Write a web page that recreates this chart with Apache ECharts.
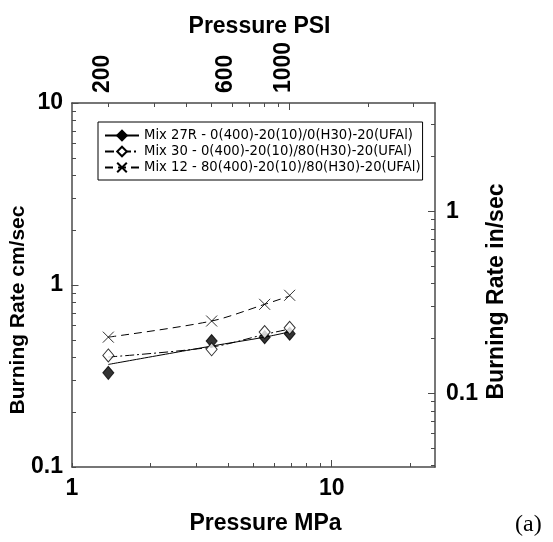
<!DOCTYPE html>
<html><head><meta charset="utf-8">
<script src="https://cdn.jsdelivr.net/npm/echarts@6/dist/echarts.min.js"></script>
<style>html,body{margin:0;padding:0;background:#fff}#c{width:553px;height:542px}</style>
</head><body><div id="c"></div>
<script>
// ---- data ----
const pressureMPa = [1.38, 3.45, 5.52, 6.89];
const mix27R = [0.329, 0.492, 0.517, 0.540];
const mix30  = [0.410, 0.443, 0.551, 0.582];
const mix12  = [0.517, 0.634, 0.783, 0.878];
const fit27R = [0.366, 0.462, 0.517, 0.553];
const fit30  = [0.402, 0.456, 0.535, 0.573];
const fit12  = [0.517, 0.634, 0.783, 0.870];
const seriesNames = [
  'Mix 27R - 0(400)-20(10)/0(H30)-20(UFAl)',
  'Mix 30 - 0(400)-20(10)/80(H30)-20(UFAl)',
  'Mix 12 - 80(400)-20(10)/80(H30)-20(UFAl)'
];
const mpaTicks  = [1, 2, 3, 4, 5, 6, 7, 8, 9, 10, 20];
const mpaMajor  = [10];
const mpaLabels = [1, 10];
const psiTicks  = [200, 300, 400, 500, 600, 700, 800, 900, 1000, 2000, 3000];
const psiMajor  = [1000];
const psiLabels = [200, 600, 1000];
const cmTicks   = [0.1, 0.2, 0.3, 0.4, 0.5, 0.6, 0.7, 0.8, 0.9, 1, 2, 3, 4, 5, 6, 7, 8, 9, 10];
const cmMajor   = [1, 10];
const cmLabels  = [0.1, 1, 10];
const inTicks   = [0.04, 0.05, 0.06, 0.07, 0.08, 0.09, 0.1, 0.2, 0.3, 0.4, 0.5, 0.6, 0.7, 0.8, 0.9, 1, 2, 3];
const inMajor   = [0.1, 1];
const inLabels  = [0.1, 1];
const PSI_PER_MPA = 145.04, CM_PER_IN = 2.54;
const X_MIN = 1, X_MAX = 25, Y_MIN = 0.1, Y_MAX = 10;

const FONT = "'Liberation Sans', Arial, Helvetica, sans-serif";
const AXC = '#4a4a4a';
const pairs = (xs, ys) => xs.map((x, i) => [x, ys[i]]);
const XPATH = 'path://M0,0L10,10M10,0L0,10';
const GRID = {left: 71.5, right: 118, top: 103, bottom: 75};

const labelStyle = {fontFamily: FONT, fontSize: 23, fontWeight: 'bold', color: '#000',
  formatter: v => String(v)};
function nameStyle(size, pad) {
  return {fontFamily: FONT, fontSize: size, fontWeight: 'bold', color: '#000', padding: pad || 0};
}
function axisBase(extra) {
  return Object.assign({
    type: 'log', logBase: 10, nameMoveOverlap: false,
    axisLine: {show: true, onZero: false, lineStyle: {color: AXC, width: 1.5}},
    splitLine: {show: false}
  }, extra);
}
function majorAxis(pos, min, max, ticks) {
  return {
    type: 'log', logBase: 10, gridIndex: 1, position: pos, min: min, max: max,
    axisLine: {show: false}, splitLine: {show: false}, axisLabel: {show: false},
    axisTick: {show: true, inside: true, length: 7, customValues: ticks, lineStyle: {color: AXC, width: 1}}
  };
}

const markers = [
  {symbol: 'diamond', size: [11, 13], style: {color: '#000', borderColor: '#000', borderWidth: 1}},
  {symbol: 'diamond', size: [11, 13], style: {color: '#fff', borderColor: '#000', borderWidth: 1}},
  {symbol: XPATH, size: 11, style: {color: '#000', borderColor: '#000', borderWidth: 1}}
];
const lineTypes = ['solid', [9, 3, 2, 3], [8, 5]];
const fits = [fit27R, fit30, fit12];
const pts = [mix27R, mix30, mix12];

const series = [];
for (let i = 0; i < 3; i++) {
  series.push({
    name: seriesNames[i], type: 'line', xAxisIndex: 0, yAxisIndex: 0,
    data: pairs(pressureMPa, fits[i]), showSymbol: false,
    symbol: markers[i].symbol, symbolSize: markers[i].size,
    itemStyle: markers[i].style, smooth: 0.3,
    lineStyle: {color: '#000', width: 1, type: lineTypes[i]}, z: 2
  });
}
for (let i = 0; i < 3; i++) {
  series.push({
    name: 'pts' + i, type: 'scatter', xAxisIndex: 0, yAxisIndex: 0,
    data: pairs(pressureMPa, pts[i]),
    symbol: markers[i].symbol, symbolSize: markers[i].size,
    itemStyle: markers[i].style, z: 3
  });
}

const chart = echarts.init(document.getElementById('c'), null, {renderer: 'canvas'});
chart.setOption({
  animation: false,
  backgroundColor: '#fff',
  grid: [Object.assign({}, GRID), Object.assign({}, GRID)],
  xAxis: [
    axisBase({position: 'bottom', min: X_MIN, max: X_MAX,
      name: 'Pressure MPa', nameLocation: 'middle', nameGap: 45,
      nameTextStyle: nameStyle(23, [0, 0, 0, 24]),
      axisTick: {show: true, inside: true, length: 4, customValues: mpaTicks, lineStyle: {color: AXC}},
      axisLabel: Object.assign({margin: 10, customValues: mpaLabels}, labelStyle)}),
    axisBase({position: 'top', min: X_MIN * PSI_PER_MPA, max: X_MAX * PSI_PER_MPA,
      name: 'Pressure PSI', nameLocation: 'middle', nameGap: 65,
      nameTextStyle: nameStyle(23, [0, 0, 0, 12]),
      axisTick: {show: true, inside: true, length: 4, customValues: psiTicks, lineStyle: {color: AXC}},
      axisLabel: Object.assign({margin: 10, rotate: -90, verticalAlign: 'bottom', lineHeight: 12,
        customValues: psiLabels}, labelStyle)}),
    majorAxis('bottom', X_MIN, X_MAX, mpaMajor),
    majorAxis('top', X_MIN * PSI_PER_MPA, X_MAX * PSI_PER_MPA, psiMajor)
  ],
  yAxis: [
    axisBase({position: 'left', min: Y_MIN, max: Y_MAX,
      name: 'Burning Rate cm/sec', nameLocation: 'middle', nameGap: 43,
      nameTextStyle: nameStyle(21, [0, 50, 0, 0]),
      axisTick: {show: true, inside: true, length: 4, customValues: cmTicks, lineStyle: {color: AXC}},
      axisLabel: Object.assign({margin: 9, customValues: cmLabels}, labelStyle)}),
    axisBase({position: 'right', min: Y_MIN / CM_PER_IN, max: Y_MAX / CM_PER_IN,
      name: 'Burning Rate in/sec', nameLocation: 'middle', nameGap: 50,
      nameTextStyle: nameStyle(23, [0, 13, 0, 0]),
      axisTick: {show: true, inside: true, length: 4, customValues: inTicks, lineStyle: {color: AXC}},
      axisLabel: Object.assign({margin: 11, customValues: inLabels}, labelStyle)}),
    majorAxis('left', Y_MIN, Y_MAX, cmMajor),
    majorAxis('right', Y_MIN / CM_PER_IN, Y_MAX / CM_PER_IN, inMajor)
  ],
  legend: {
    data: seriesNames, orient: 'vertical', left: 98, top: 122,
    padding: [7, 2, 6, 6], itemWidth: 34, itemHeight: 12, itemGap: 3,
    borderColor: '#000', borderWidth: 1, backgroundColor: '#fff',
    textStyle: {fontFamily: "'DejaVu Sans', sans-serif", fontSize: 13.2, color: '#000', lineHeight: 12}
  },
  graphic: [{type: 'text', left: 515, top: 513,
    style: {text: '(a)', font: "24px 'Liberation Serif', 'Times New Roman', serif", fill: '#000'}}],
  series: series
});
</script></body></html>
